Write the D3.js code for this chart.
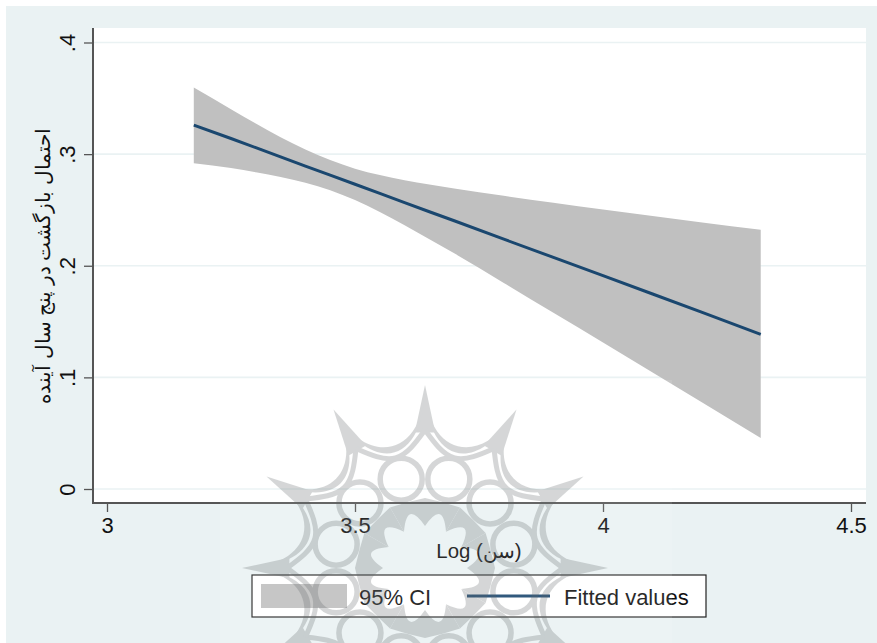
<!DOCTYPE html>
<html lang="fa">
<head>
    <meta charset="utf-8">
    <title>Fitted values with 95% CI</title>
    <script src="https://d3js.org/d3.v7.min.js"></script>
    <style>
        body { margin: 0; background: #fff; }
        text { font-family: "Liberation Sans", Arial, sans-serif; fill: #111; }
    </style>
</head>
<body>
    <svg id="plot" width="877" height="643"></svg>

    <script>
        // values
        var logAge = [3.175, 3.25, 3.3, 3.35, 3.4, 3.45, 3.5, 3.55, 3.6, 3.65, 3.7, 3.8, 3.9, 4, 4.1, 4.2, 4.318];
        var ciUpper = [0.3596, 0.3403, 0.3275, 0.3152, 0.3042, 0.2947, 0.287, 0.2813, 0.2767, 0.2727, 0.2692, 0.2626, 0.2564, 0.2504, 0.2446, 0.2387, 0.2323];
        var ciLower = [0.2919, 0.2876, 0.2838, 0.2796, 0.2744, 0.2676, 0.2588, 0.2481, 0.2363, 0.2238, 0.2111, 0.1846, 0.1579, 0.1313, 0.1043, 0.0774, 0.0457];
        var fitted = [0.326, 0.314, 0.3058, 0.2975, 0.2893, 0.2812, 0.273, 0.2648, 0.2566, 0.2484, 0.2403, 0.2238, 0.2075, 0.1911, 0.1747, 0.1583, 0.1386];

        var xTicks = [3, 3.5, 4, 4.5];
        var xTickLabels = ["3", "3.5", "4", "4.5"];
        var yTicks = [0, 0.1, 0.2, 0.3, 0.4];
        var yTickLabels = ["0", ".1", ".2", ".3", ".4"];

        var xTitle = "Log (سن)";
        var yTitle = "احتمال بازگشت در پنج سال آینده";
        var legendLabels = ["95% CI", "Fitted values"];

        var bgColor = "#eaf2f3", axisColor = "#555", bandColor = "#c0c0c0", lineColor = "#1a476f";
        var plotLeft = 93, plotRight = 866, plotTop = 28, plotBottom = 503;

        var svg = d3.select("#plot");

        var xScale = d3.scaleLinear().domain([3, 4.5]).range([107, 851]);
        var yScale = d3.scaleLinear().domain([0, 0.4]).range([489, 42.5]);

        // page and plot region
        svg.append("rect").attr("x", 6).attr("y", 6).attr("width", 871).attr("height", 637).attr("fill", bgColor);
        svg.append("rect")
            .attr("x", plotLeft).attr("y", plotTop)
            .attr("width", plotRight - plotLeft).attr("height", plotBottom - plotTop)
            .attr("fill", "#fff");

        // grid
        svg.append("g").selectAll("line").data(yTicks).join("line")
            .attr("x1", plotLeft).attr("x2", plotRight)
            .attr("y1", function (d) { return yScale(d); })
            .attr("y2", function (d) { return yScale(d); })
            .attr("stroke", bgColor).attr("stroke-width", 1.6);

        // CI band and fit
        var band = d3.area()
            .curve(d3.curveMonotoneX)
            .x(function (d) { return xScale(logAge[d]); })
            .y0(function (d) { return yScale(ciLower[d]); })
            .y1(function (d) { return yScale(ciUpper[d]); });
        svg.append("path").datum(d3.range(logAge.length)).attr("d", band).attr("fill", bandColor);

        var fitLine = d3.line()
            .x(function (d) { return xScale(logAge[d]); })
            .y(function (d) { return yScale(fitted[d]); });
        svg.append("path").datum(d3.range(logAge.length)).attr("d", fitLine)
            .attr("fill", "none").attr("stroke", lineColor).attr("stroke-width", 3);

        // axes
        var xAxis = svg.append("g")
            .attr("transform", "translate(0," + plotBottom + ")")
            .call(d3.axisBottom(xScale).tickValues(xTicks).tickSize(9).tickPadding(5)
                .tickFormat(function (d, i) { return xTickLabels[i]; }));
        var yAxis = svg.append("g")
            .attr("transform", "translate(" + plotLeft + ",0)")
            .call(d3.axisLeft(yScale).tickValues(yTicks).tickSize(9)
                .tickFormat(function (d, i) { return yTickLabels[i]; }));

        xAxis.select(".domain").remove();
        yAxis.select(".domain").remove();
        xAxis.selectAll("line").attr("stroke", axisColor).attr("stroke-width", 1.3);
        yAxis.selectAll("line").attr("stroke", axisColor).attr("stroke-width", 1.3);
        xAxis.selectAll("text").style("font-size", "22px").style("font-family", '"Liberation Sans"').attr("fill", "#111");
        yAxis.selectAll("text")
            .attr("x", null).attr("dy", null)
            .attr("text-anchor", "middle")
            .attr("transform", "translate(-18,0) rotate(-90)")
            .style("font-size", "22px").style("font-family", '"Liberation Sans"').attr("fill", "#111");

        svg.append("line").attr("x1", plotLeft).attr("x2", plotLeft).attr("y1", plotTop).attr("y2", plotBottom + 1)
            .attr("stroke", axisColor).attr("stroke-width", 2);
        svg.append("line").attr("x1", plotLeft).attr("x2", plotRight).attr("y1", plotBottom).attr("y2", plotBottom)
            .attr("stroke", axisColor).attr("stroke-width", 2);

        // axis titles
        svg.append("text").attr("x", 479).attr("y", 558).attr("text-anchor", "middle")
            .style("font-size", "20.4px").text(xTitle);
        svg.append("text").attr("transform", "translate(50,266) rotate(-90)").attr("text-anchor", "middle")
            .style("font-size", "19.7px").text(yTitle);

        // legend
        var legend = svg.append("g");
        legend.append("rect").attr("x", 252).attr("y", 575).attr("width", 454).attr("height", 42)
            .attr("fill", "#fff").attr("stroke", "#222").attr("stroke-width", 1.2);
        legend.append("rect").attr("x", 261).attr("y", 584).attr("width", 86).attr("height", 24).attr("fill", bandColor);
        legend.append("line").attr("x1", 467).attr("x2", 550).attr("y1", 596).attr("y2", 596)
            .attr("stroke", lineColor).attr("stroke-width", 3);
        legend.append("text").attr("x", 359).attr("y", 605).style("font-size", "22px").text(legendLabels[0]);
        legend.append("text").attr("x", 564).attr("y", 605).style("font-size", "22px").text(legendLabels[1]);

        // watermark rosette over everything
        var mark = svg.append("g").attr("pointer-events", "none");
        mark.append("rect").attr("x", 220).attr("y", 380).attr("width", 452).attr("height", 263)
            .attr("fill", "#fff").attr("opacity", 0.1);

        var rosette = mark.append("g").attr("transform", "translate(425,568)").attr("opacity", 0.26);
        var markColor = "#5f6668";
        var step = Math.PI / 6;

        function polar(r, a) { return [r * Math.sin(a), -r * Math.cos(a)]; }

        d3.range(12).forEach(function (k) {
            var a = k * step, b = a + step, m = a + step / 2;
            var tipA = polar(183, a), tipB = polar(183, b);
            var c1 = polar(113, a), c2 = polar(113, b), c3 = polar(104, b), c4 = polar(104, a);
            var p = d3.path();
            p.moveTo(tipA[0], tipA[1]);
            p.bezierCurveTo(c1[0], c1[1], c2[0], c2[1], tipB[0], tipB[1]);
            p.bezierCurveTo(c3[0], c3[1], c4[0], c4[1], tipA[0], tipA[1]);
            p.closePath();
            rosette.append("path").attr("d", p.toString()).attr("fill", markColor);

            // solid spike, closing the gap where two arcs meet
            rosette.append("path")
                .attr("d", d3.line()([tipA, polar(136, a - 0.075), polar(136, a + 0.075)]) + "Z")
                .attr("fill", markColor);

            // ring of small circles
            var ctr = polar(92, m);
            rosette.append("circle").attr("cx", ctr[0]).attr("cy", ctr[1]).attr("r", 21)
                .attr("fill", "none").attr("stroke", markColor).attr("stroke-width", 5.5);

            // links from spike roots to circle tops
            var root1 = polar(138, a), top = polar(114, m), root2 = polar(138, b);
            rosette.append("path")
                .attr("d", d3.line().curve(d3.curveNatural)([root1, top, root2]))
                .attr("fill", "none").attr("stroke", markColor).attr("stroke-width", 5);

            // inner band with scalloped star opening
            var outerA = polar(70, a), outerM = polar(68, m), outerB = polar(70, b);
            var innerA = polar(42, a), innerB = polar(42, b), innerC = polar(71, m);
            var q = d3.path();
            q.moveTo(outerA[0], outerA[1]);
            q.lineTo(outerM[0], outerM[1]);
            q.lineTo(outerB[0], outerB[1]);
            q.lineTo(innerB[0], innerB[1]);
            q.quadraticCurveTo(innerC[0], innerC[1], innerA[0], innerA[1]);
            q.closePath();
            rosette.append("path").attr("d", q.toString()).attr("fill", markColor);
        });
    </script>
</body>
</html>
